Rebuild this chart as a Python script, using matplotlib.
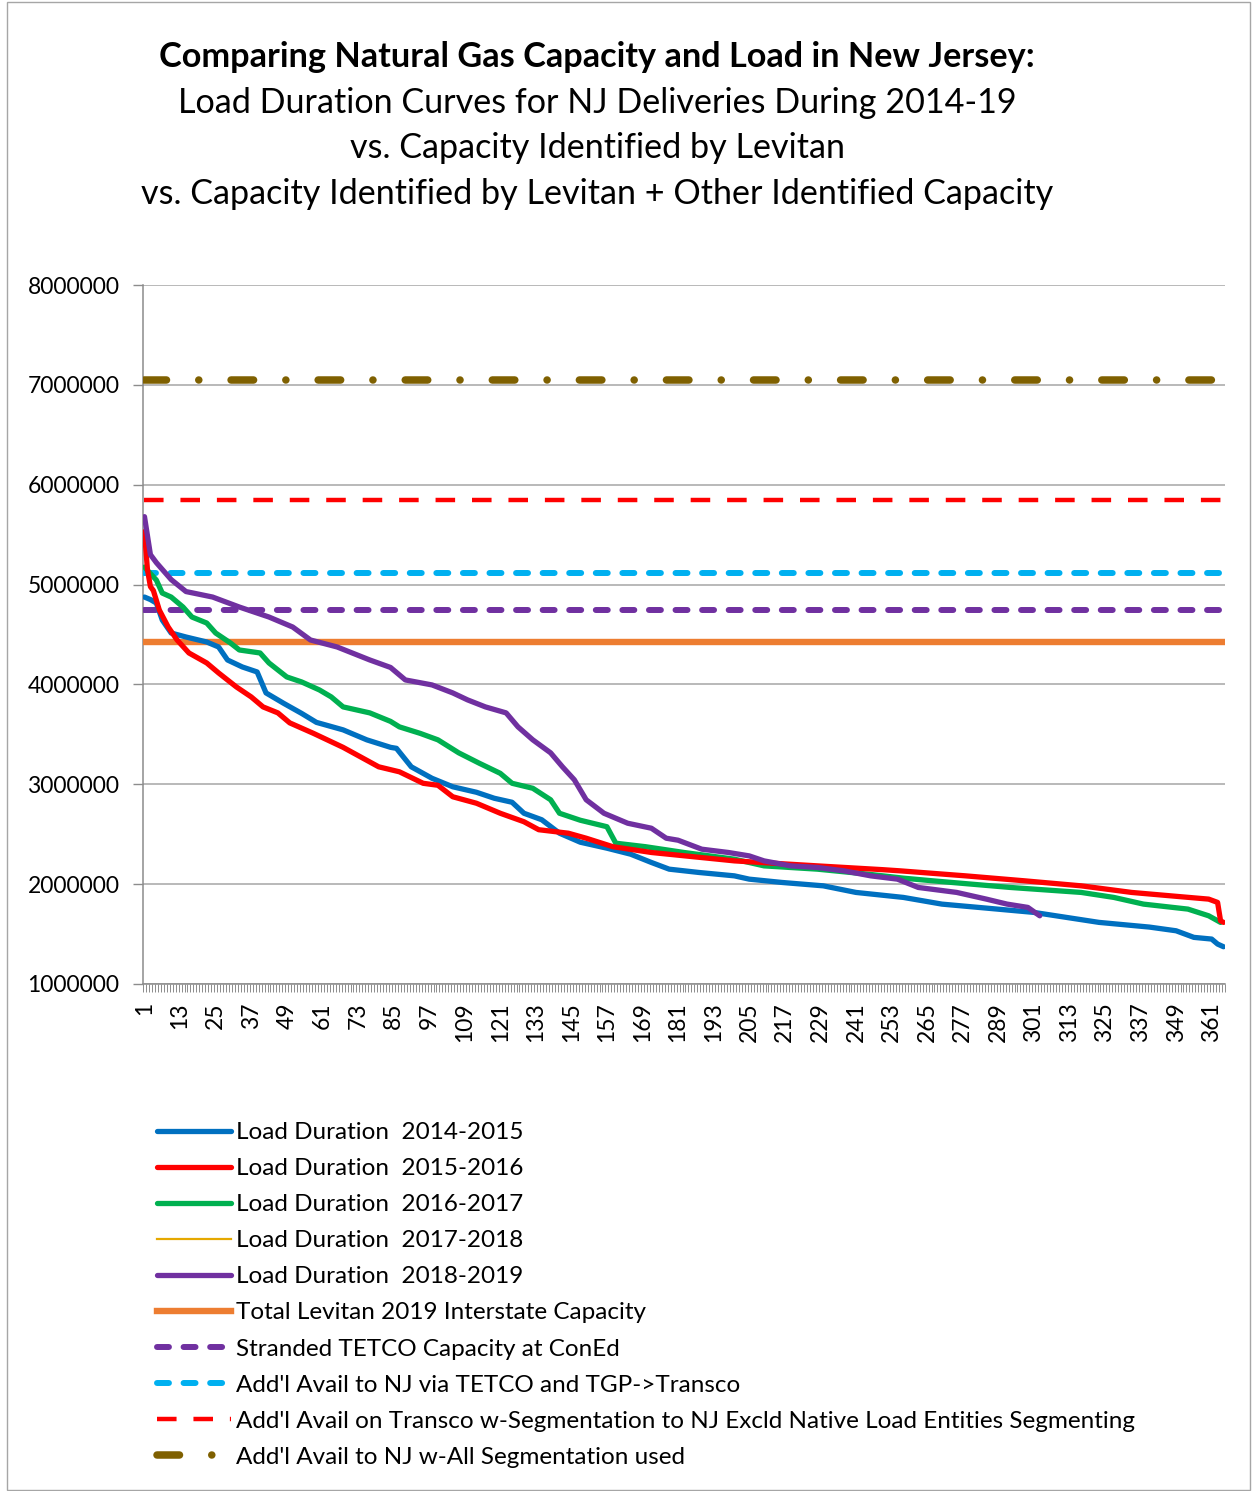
import matplotlib
matplotlib.use("Agg")
import matplotlib.pyplot as plt
from matplotlib.patches import Rectangle
from matplotlib.ticker import FuncFormatter, FixedLocator

plt.rcParams['font.family'] = ['Lato', 'DejaVu Sans']

# load duration curves (day rank, daily NJ deliveries)
days_1415 = [1, 3, 5, 7, 10, 15, 22, 26, 29, 34, 39, 42, 48, 54, 59, 68, 76, 84, 86, 91,
             98, 105, 113, 119, 125, 129, 135, 141, 148, 157, 165, 172, 178, 188, 200, 205,
             216, 230, 241, 257, 270, 285, 301, 323, 340, 349, 355, 361, 363, 365]
load_1415 = [4.875, 4.85, 4.815, 4.645, 4.515, 4.475, 4.425, 4.375, 4.245, 4.175, 4.125,
             3.915, 3.81, 3.71, 3.62, 3.545, 3.445, 3.37, 3.36, 3.175, 3.06, 2.975, 2.92,
             2.86, 2.82, 2.71, 2.645, 2.51, 2.42, 2.36, 2.3, 2.217, 2.15, 2.117, 2.083, 2.05,
             2.017, 1.983, 1.917, 1.867, 1.8, 1.76, 1.717, 1.617, 1.57, 1.533, 1.467, 1.45,
             1.40, 1.373]

days_1516 = [1, 2, 3, 4, 6, 9, 12, 16, 22, 26, 32, 37, 41, 46, 50, 58, 68, 80, 87, 95, 100,
             105, 113, 121, 129, 134, 144, 150, 159, 172, 200, 228, 250, 256, 278, 298, 317,
             334, 351, 360, 363, 364, 365]
load_1516 = [5.53, 5.15, 4.98, 4.94, 4.745, 4.575, 4.445, 4.315, 4.215, 4.115, 3.975, 3.875,
             3.775, 3.715, 3.615, 3.51, 3.37, 3.175, 3.125, 3.01, 2.99, 2.875, 2.81, 2.71,
             2.625, 2.545, 2.51, 2.46, 2.375, 2.317, 2.233, 2.183, 2.145, 2.133, 2.083, 2.033,
             1.983, 1.917, 1.873, 1.85, 1.817, 1.633, 1.617]

days_1617 = [1, 5, 7, 10, 14, 17, 22, 25, 30, 33, 40, 43, 49, 54, 60, 64, 68, 77, 84, 87, 94,
             100, 107, 114, 121, 125, 132, 138, 141, 148, 157, 160, 170, 183, 200, 210, 228,
             245, 257, 267, 293, 317, 328, 338, 353, 360, 364]
load_1617 = [5.175, 5.045, 4.915, 4.875, 4.775, 4.675, 4.615, 4.515, 4.415, 4.345, 4.315,
             4.215, 4.075, 4.025, 3.945, 3.875, 3.775, 3.715, 3.63, 3.575, 3.51, 3.445, 3.315,
             3.21, 3.11, 3.01, 2.96, 2.845, 2.71, 2.64, 2.575, 2.41, 2.375, 2.317, 2.25, 2.183,
             2.15, 2.1, 2.06, 2.033, 1.967, 1.917, 1.867, 1.8, 1.75, 1.683, 1.617]

# 2017-18 shows up in the legend only
days_1718 = []
load_1718 = []

days_1819 = [1, 3, 5, 10, 15, 24, 33, 43, 51, 57, 66, 77, 84, 89, 98, 105, 110, 116, 123, 127,
             132, 138, 142, 146, 150, 156, 164, 172, 177, 181, 189, 198, 205, 210, 219, 228,
             237, 246, 255, 262, 275, 285, 292, 299, 303]
load_1819 = [5.68, 5.3, 5.22, 5.05, 4.93, 4.875, 4.775, 4.675, 4.575, 4.445, 4.375, 4.245,
             4.17, 4.045, 3.995, 3.915, 3.845, 3.775, 3.715, 3.575, 3.445, 3.315, 3.175, 3.045,
             2.845, 2.71, 2.61, 2.56, 2.46, 2.44, 2.35, 2.317, 2.283, 2.233, 2.183, 2.167,
             2.133, 2.083, 2.05, 1.967, 1.917, 1.85, 1.8, 1.767, 1.683]

# capacity levels (Dth/day)
day_first, day_last = 1, 365
cap_levitan = 4420000
cap_tetco_stranded = 4750000
cap_tetco_tgp = 5120000
cap_transco_seg = 5850000
cap_all_seg = 7050000

labels = ["Load Duration  2014-2015", "Load Duration  2015-2016", "Load Duration  2016-2017",
          "Load Duration  2017-2018", "Load Duration  2018-2019",
          "Total Levitan 2019 Interstate Capacity", "Stranded TETCO Capacity at ConEd",
          "Add'l Avail to NJ via TETCO and TGP->Transco",
          "Add'l Avail on Transco w-Segmentation to NJ Excld Native Load Entities Segmenting",
          "Add'l Avail to NJ w-All Segmentation used"]
label_days = list(range(1, 366, 12))

fig = plt.figure(figsize=(12.53, 14.91), dpi=100)
ax = fig.add_axes([143 / 1253, 1 - 984 / 1491, (1225 - 143) / 1253, (984 - 285) / 1491])

M = 1e6
lw_load = 3.8
h = []
h += ax.plot(days_1415, [v * M for v in load_1415], color='#0070C0', lw=lw_load, solid_capstyle='round', zorder=5)
h += ax.plot(days_1516, [v * M for v in load_1516], color='#FF0000', lw=lw_load, solid_capstyle='round', zorder=6)
h += ax.plot(days_1617, [v * M for v in load_1617], color='#00B050', lw=lw_load, solid_capstyle='round', zorder=5.5)
h += ax.plot(days_1718, load_1718, color='#E5A800', lw=1.6)
h += ax.plot(days_1819, [v * M for v in load_1819], color='#7030A0', lw=lw_load, solid_capstyle='round', zorder=6.5)

xs = [day_first, day_last]
h += ax.plot(xs, [cap_levitan] * 2, color='#ED7D31', lw=4.6, zorder=4)
h += ax.plot(xs, [cap_tetco_stranded] * 2, color='#7030A0', lw=4.3, dashes=(2.0, 2.45),
             dash_capstyle='round', zorder=4)
h += ax.plot(xs, [cap_tetco_tgp] * 2, color='#00B0F0', lw=4.3, dashes=(2.0, 2.45),
             dash_capstyle='round', zorder=4)
h += ax.plot(xs, [cap_transco_seg] * 2, color='#FF0000', lw=3.2, dashes=(4.4, 3.8), zorder=4)
h += ax.plot(xs, [cap_all_seg] * 2, color='#7F6000', lw=5.4, dashes=(3.0, 4.3, 0.01, 4.3),
             dash_capstyle='round', zorder=4)

ax.set_xlim(0.5, 365.5)
ax.set_ylim(1000000, 8000000)
ax.set_yticks([1000000 * k for k in range(1, 9)])
ax.yaxis.set_major_formatter(FuncFormatter(lambda v, p: f"{int(v)}"))
ax.grid(axis='y', color='#A6A6A6', lw=1.1)
ax.set_axisbelow(True)

ax.xaxis.set_major_locator(FixedLocator(label_days))
ax.set_xticklabels([str(d) for d in label_days], rotation=90)
ax.xaxis.set_minor_locator(FixedLocator([d + 0.5 for d in range(0, 366)]))
ax.tick_params(axis='x', which='major', length=0, pad=13, labelsize=16.5)
ax.tick_params(axis='x', which='minor', length=6, width=0.7, color='#8C8C8C')
ax.tick_params(axis='y', which='major', length=7, width=1, color='#8C8C8C', pad=10, labelsize=16.5)

for s in ['top', 'right']:
    ax.spines[s].set_visible(False)
for s in ['left', 'bottom']:
    ax.spines[s].set_color('#8C8C8C')
    ax.spines[s].set_linewidth(1.1)

# title block
cx = 597 / 1253
fig.text(cx, 1 - 57 / 1491, "Comparing Natural Gas Capacity and Load in New Jersey:",
         ha='center', va='center', fontsize=24.7, fontweight='bold')
fig.text(cx, 1 - 103 / 1491, "Load Duration Curves for NJ Deliveries During 2014-19",
         ha='center', va='center', fontsize=24.6)
fig.text(cx, 1 - 148 / 1491, "vs. Capacity Identified by Levitan",
         ha='center', va='center', fontsize=24.6)
fig.text(cx, 1 - 194 / 1491, "vs. Capacity Identified by Levitan + Other Identified Capacity",
         ha='center', va='center', fontsize=24.6)

leg = ax.legend(h, labels, loc='upper left', bbox_to_anchor=(157 / 1253, 1 - 1122 / 1491),
                bbox_transform=fig.transFigure, frameon=False, fontsize=17.5,
                handlelength=3.05, handletextpad=0.2, labelspacing=0.62,
                borderpad=0, borderaxespad=0)

fig.patches.append(Rectangle((7 / 1253, 1 / 1491), 1 - 10 / 1253, 1 - 3 / 1491,
                             transform=fig.transFigure, fill=False, edgecolor='#A6A6A6', lw=1))

fig.savefig("out.png", dpi=100)
